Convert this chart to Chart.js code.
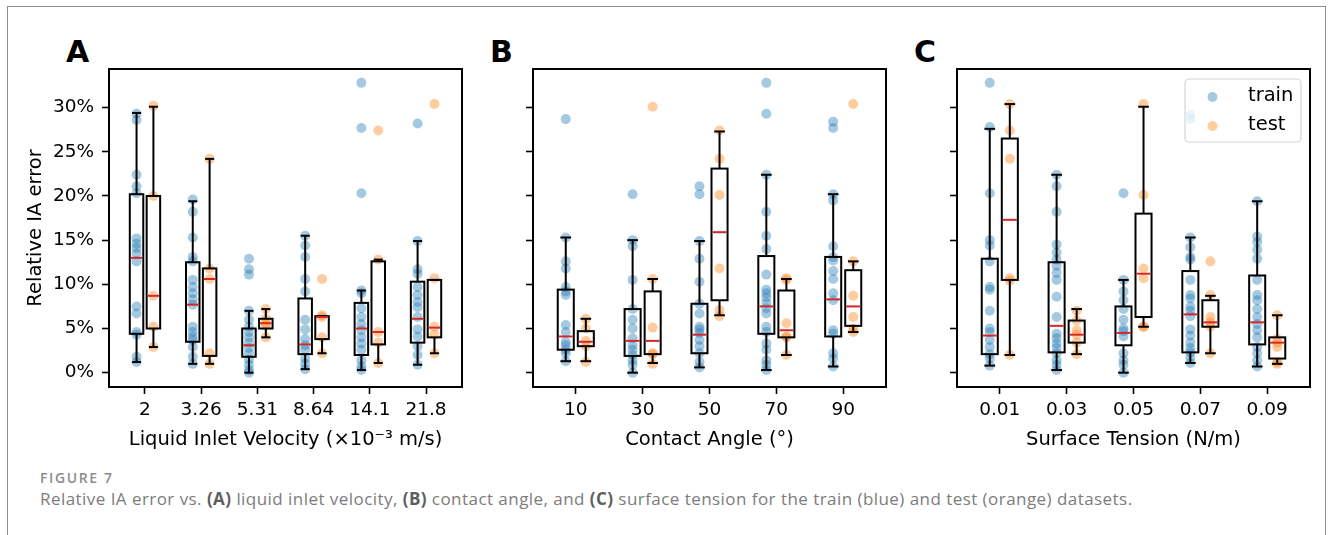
<!DOCTYPE html>
<html>
<head>
<meta charset="utf-8">
<script src="https://cdn.jsdelivr.net/npm/chart.js@4/dist/chart.umd.min.js"></script>
<style>
  body { margin: 0; background: #fff; width: 1336px; height: 535px; overflow: hidden; position: relative; }
  canvas { position: absolute; top: 20px; }
  .frame { position: absolute; left: 7px; top: 6px; width: 1317px; height: 600px;
           border: 1px solid #8e8e8e; border-bottom: none; }
  .panel { position: absolute; top: 37px; font: bold 30px/30px 'DejaVu Sans'; color: #000; }
  .fig { position: absolute; left: 40px; top: 468px; font: 600 14px 'Open Sans'; color: #8c8c8c; letter-spacing: 1.6px; }
  .caption { position: absolute; left: 40px; top: 487px; font: 17px 'Open Sans'; color: #7c7c7c; white-space: nowrap; letter-spacing: 0.45px; }
  .caption b { color: #5e5e5e; font-weight: 700; }
</style>
</head>
<body>
<div class="frame"></div>
<div class="panel" style="left:66px">A</div>
<div class="panel" style="left:490px">B</div>
<div class="panel" style="left:914px">C</div>
<canvas id="velocity" width="463" height="437" style="left:9px"></canvas>
<canvas id="angle" width="463" height="437" style="left:433px"></canvas>
<canvas id="tension" width="463" height="437" style="left:857px"></canvas>
<div class="fig">FIGURE 7</div>
<div class="caption">Relative IA error vs. <b>(A)</b> liquid inlet velocity, <b>(B)</b> contact angle, and <b>(C)</b> surface tension for the train (blue) and test (orange) datasets.</div>
<script>
// relative IA error in percent
const yTicks = [0, 5, 10, 15, 20, 25, 30];

// (A) liquid inlet velocity
const velocityLabels = ['2', '3.26', '5.31', '8.64', '14.1', '21.8'];
const velocityTrain = [
  [29.3, 28.6, 22.4, 21.1, 20.3, 15.2, 14.6, 14.1, 13.5, 12.6, 7.5, 6.7, 4.6, 4.3, 1.8, 1.2],
  [19.6, 18.2, 15.3, 13.1, 12.6, 10.5, 9.7, 9.0, 8.3, 7.7, 5.2, 4.6, 4.1, 3.7, 2.9, 1.8, 1.0],
  [12.9, 11.7, 11.1, 7.0, 6.0, 5.2, 4.6, 4.0, 3.4, 2.8, 2.2, 1.5, 0.9, 0.3, 0.0],
  [15.5, 14.4, 13.1, 10.6, 9.2, 6.0, 4.9, 3.8, 3.1, 2.6, 1.6, 1.0, 0.4],
  [32.8, 27.7, 20.3, 9.3, 9.0, 7.3, 6.3, 5.5, 4.8, 4.0, 3.3, 2.6, 1.4, 0.7, 0.3],
  [28.2, 14.9, 11.7, 11.2, 9.7, 8.8, 8.0, 7.4, 6.3, 4.9, 4.1, 3.0, 2.0, 0.9]
];
const velocityTest = [
  [30.2, 20.0, 8.7, 5.2, 2.9],
  [24.2, 11.8, 10.6, 2.2, 1.0],
  [7.2, 6.1, 5.6, 5.3, 4.0],
  [10.6, 6.5, 6.3, 4.0, 2.2],
  [27.4, 12.8, 4.6, 3.4, 1.1],
  [30.4, 10.7, 5.2, 4.3, 2.2]
];
// [lower whisker, q1, median, q3, upper whisker]
const velocityTrainBox = [
  [1.2, 4.4, 13.0, 20.2, 29.4],
  [1.0, 3.5, 7.7, 12.5, 19.4],
  [0.0, 1.8, 3.1, 5.0, 7.0],
  [0.4, 2.1, 3.2, 8.4, 15.5],
  [0.3, 2.0, 5.0, 7.9, 9.3],
  [0.9, 3.4, 6.1, 10.3, 14.9]
];
const velocityTestBox = [
  [2.9, 5.0, 8.7, 20.0, 30.1],
  [1.0, 1.9, 10.6, 11.8, 24.2],
  [4.0, 5.0, 5.6, 6.1, 7.2],
  [2.2, 3.8, 6.3, 6.4, 6.4],
  [1.1, 3.2, 4.6, 12.6, 12.8],
  [2.2, 4.0, 5.1, 10.5, 10.5]
];

// (B) contact angle
const angleLabels = ['10', '30', '50', '70', '90'];
const angleTrain = [
  [28.7, 15.3, 12.6, 11.8, 9.7, 9.2, 8.8, 5.4, 4.6, 3.5, 3.1, 2.6, 2.2, 1.3],
  [20.2, 15.0, 14.3, 10.5, 7.2, 6.0, 5.0, 3.9, 3.1, 2.6, 2.0, 1.4, 0.9, 0.0],
  [21.1, 20.2, 14.9, 12.9, 10.3, 7.8, 6.7, 5.2, 4.9, 4.5, 3.7, 3.0, 2.2, 1.2, 0.6],
  [32.8, 29.3, 22.4, 18.2, 15.5, 14.0, 11.1, 9.4, 9.0, 8.5, 7.9, 7.3, 6.7, 5.2, 4.6, 3.3, 2.6, 1.4, 0.9, 0.3],
  [28.4, 27.7, 20.2, 19.5, 14.3, 13.1, 12.7, 11.5, 10.6, 9.0, 8.2, 4.8, 4.4, 2.2, 1.6, 0.7]
];
const angleTest = [
  [6.1, 5.0, 3.6, 3.0, 1.2],
  [30.1, 10.6, 5.1, 2.2, 2.1, 1.0],
  [27.4, 24.2, 20.1, 11.8, 7.1, 6.4],
  [10.7, 10.5, 5.6, 4.1, 4.0, 2.0],
  [30.4, 12.6, 8.7, 6.3, 5.0, 4.6]
];
const angleTrainBox = [
  [1.3, 2.6, 4.1, 9.4, 15.3],
  [0.0, 1.9, 3.6, 7.2, 15.0],
  [0.6, 2.2, 4.3, 7.8, 14.9],
  [0.3, 4.4, 7.5, 13.2, 22.4],
  [0.7, 4.1, 8.3, 13.1, 20.2]
];
const angleTestBox = [
  [1.3, 3.0, 3.5, 4.7, 6.1],
  [1.1, 2.1, 3.6, 9.2, 10.6],
  [6.5, 8.2, 15.9, 23.1, 27.3],
  [2.0, 4.0, 4.8, 9.3, 10.6],
  [4.6, 5.3, 7.5, 11.6, 12.6]
];

// (C) surface tension
const tensionLabels = ['0.01', '0.03', '0.05', '0.07', '0.09'];
const tensionTrain = [
  [32.8, 27.8, 20.3, 15.0, 14.4, 12.6, 9.7, 9.4, 7.0, 5.0, 4.6, 3.7, 2.9, 2.1, 1.6, 0.8],
  [22.4, 21.1, 18.2, 14.5, 13.6, 12.8, 12.1, 11.3, 10.5, 8.6, 6.3, 4.4, 3.9, 3.3, 2.8, 2.2, 1.4, 0.9, 0.3],
  [20.3, 10.5, 9.2, 8.2, 7.2, 6.0, 5.0, 4.7, 4.1, 2.2, 1.4, 0.9, 0.0],
  [29.2, 28.7, 15.3, 14.2, 13.1, 12.8, 10.5, 8.8, 8.4, 7.5, 7.0, 6.4, 4.9, 4.2, 3.4, 2.8, 2.3, 1.7, 1.1],
  [19.4, 15.4, 14.8, 13.9, 12.9, 10.5, 8.8, 8.2, 7.2, 6.3, 5.5, 4.8, 4.0, 2.9, 2.2, 1.4, 0.7]
];
const tensionTest = [
  [30.4, 27.4, 24.2, 10.7, 10.4, 2.0],
  [7.0, 5.9, 4.8, 4.3, 3.4, 2.1],
  [30.4, 20.1, 11.8, 10.7, 5.2, 5.2],
  [12.6, 8.8, 6.3, 5.7, 5.2, 2.2],
  [6.5, 3.8, 3.4, 2.9, 1.2, 1.0]
];
const tensionTrainBox = [
  [0.8, 2.1, 4.2, 12.9, 27.6],
  [0.3, 2.3, 5.3, 12.5, 22.4],
  [0.0, 3.1, 4.5, 7.5, 10.5],
  [1.1, 2.3, 6.6, 11.5, 15.3],
  [0.7, 3.2, 5.7, 11.0, 19.4]
];
const tensionTestBox = [
  [2.0, 10.5, 17.3, 26.5, 30.4],
  [2.1, 3.4, 4.3, 5.9, 7.2],
  [5.2, 6.3, 11.2, 18.0, 30.1],
  [2.2, 5.2, 5.7, 8.2, 8.7],
  [1.0, 1.6, 3.4, 4.0, 6.5]
];

Chart.defaults.font.family = 'DejaVu Sans';
Chart.defaults.color = '#000';

const TRAIN_COLOR = 'rgba(31, 119, 180, 0.4)';
const TEST_COLOR = 'rgba(255, 127, 14, 0.4)';
const OFFSET = 0.15;     // train left of the tick, test right
const BOX_WIDTH = 0.24;
const CAP_WIDTH = 0.16;

function toPoints(groups, shift) {
  const pts = [];
  groups.forEach((vals, i) => vals.forEach(v => pts.push({ x: i + shift, y: v })));
  return pts;
}

// box-and-whisker overlay drawn through the chart's own scales
function boxPlugin(trainBox, testBox) {
  return {
    id: 'boxes',
    afterDatasetsDraw(chart) {
      const { ctx, scales: { x, y } } = chart;
      const half = Math.abs(x.getPixelForValue(BOX_WIDTH / 2) - x.getPixelForValue(0));
      const cap = Math.abs(x.getPixelForValue(CAP_WIDTH / 2) - x.getPixelForValue(0));
      const line = (x1, y1, x2, y2) => { ctx.beginPath(); ctx.moveTo(x1, y1); ctx.lineTo(x2, y2); ctx.stroke(); };
      ctx.save();
      [[trainBox, -OFFSET], [testBox, OFFSET]].forEach(([stats, shift]) => {
        stats.forEach((s, i) => {
          const cx = x.getPixelForValue(i + shift);
          const [lo, q1, med, q3, hi] = s.map(v => y.getPixelForValue(v));
          ctx.strokeStyle = '#000';
          ctx.lineWidth = 2;
          line(cx, q1, cx, lo);
          line(cx, q3, cx, hi);
          line(cx - cap, lo, cx + cap, lo);
          line(cx - cap, hi, cx + cap, hi);
          ctx.lineWidth = 2;
          ctx.strokeRect(cx - half, q3, half * 2, q1 - q3);
          ctx.strokeStyle = '#d62728';
          ctx.lineWidth = 2;
          line(cx - half + 1, med, cx + half - 1, med);
        });
      });
      ctx.restore();
    }
  };
}

const framePlugin = {
  id: 'frame',
  afterDatasetsDraw(chart) {
    const { ctx, chartArea: a } = chart;
    ctx.save();
    ctx.strokeStyle = '#000';
    ctx.lineWidth = 2;
    ctx.strokeRect(a.left, a.top, a.right - a.left, a.bottom - a.top);
    ctx.restore();
  }
};

const legendPlugin = {
  id: 'innerLegend',
  afterDraw(chart) {
    const { ctx, chartArea: a } = chart;
    const w = 116, h = 63, left = a.right - 9 - w, top = a.top + 10;
    ctx.save();
    ctx.beginPath();
    ctx.roundRect(left, top, w, h, 4);
    ctx.fillStyle = 'rgba(255, 255, 255, 0.8)';
    ctx.fill();
    ctx.strokeStyle = '#d6d6d6';
    ctx.lineWidth = 1.2;
    ctx.stroke();
    ctx.font = '19.5px "DejaVu Sans"';
    ctx.textBaseline = 'middle';
    [['train', TRAIN_COLOR, 17], ['test', TEST_COLOR, 46]].forEach(([label, color, dy]) => {
      ctx.fillStyle = color;
      ctx.beginPath();
      ctx.arc(left + 27.5, top + dy + 1, 5, 0, Math.PI * 2);
      ctx.fill();
      ctx.fillStyle = '#000';
      ctx.fillText(label, left + 63, top + dy);
    });
    ctx.restore();
  }
};

function axisGrid() {
  return { drawOnChartArea: false, drawTicks: true, tickLength: 7, tickWidth: 1.6, tickColor: '#000' };
}

function makePanel(id, labels, train, test, trainBox, testBox, xTitle, showY, extra) {
  return new Chart(document.getElementById(id), {
    type: 'scatter',
    data: {
      datasets: [
        { label: 'train', data: toPoints(train, -OFFSET), backgroundColor: TRAIN_COLOR, borderWidth: 0, pointRadius: 5 },
        { label: 'test', data: toPoints(test, OFFSET), backgroundColor: TEST_COLOR, borderWidth: 0, pointRadius: 5 }
      ]
    },
    options: {
      responsive: false,
      animation: false,
      devicePixelRatio: 1,
      events: [],
      layout: { padding: { top: 49, right: 10, left: 0, bottom: 0 } },
      plugins: { legend: { display: false }, tooltip: { enabled: false } },
      scales: {
        x: {
          type: 'linear',
          min: -0.64,
          max: labels.length - 1 + 0.64,
          afterBuildTicks: s => { s.ticks = labels.map((_, i) => ({ value: i })); },
          afterFit: s => { s.height = 70; },
          ticks: { callback: v => labels[v], font: { size: 18.5 }, padding: 5, maxRotation: 0, autoSkip: false },
          grid: axisGrid(),
          border: { display: false },
          title: { display: true, text: xTitle, font: { size: 19.5 }, padding: { top: 0, bottom: 5 } }
        },
        y: {
          min: -1.62,
          max: 34.37,
          afterBuildTicks: s => { s.ticks = yTicks.map(v => ({ value: v })); },
          afterFit: s => { s.width = 100; },
          ticks: { display: showY, callback: v => v + '%', font: { size: 18.5 }, padding: 8 },
          grid: axisGrid(),
          border: { display: false },
          title: { display: showY, text: 'Relative IA error', font: { size: 19.5 }, padding: { top: 15, bottom: 0 } }
        }
      }
    },
    plugins: [boxPlugin(trainBox, testBox), framePlugin].concat(extra || [])
  });
}

makePanel('velocity', velocityLabels, velocityTrain, velocityTest, velocityTrainBox, velocityTestBox,
  'Liquid Inlet Velocity (×10⁻³ m/s)', true);
makePanel('angle', angleLabels, angleTrain, angleTest, angleTrainBox, angleTestBox,
  'Contact Angle (°)', false);
makePanel('tension', tensionLabels, tensionTrain, tensionTest, tensionTrainBox, tensionTestBox,
  'Surface Tension (N/m)', false, [legendPlugin]);
</script>
</body>
</html>
